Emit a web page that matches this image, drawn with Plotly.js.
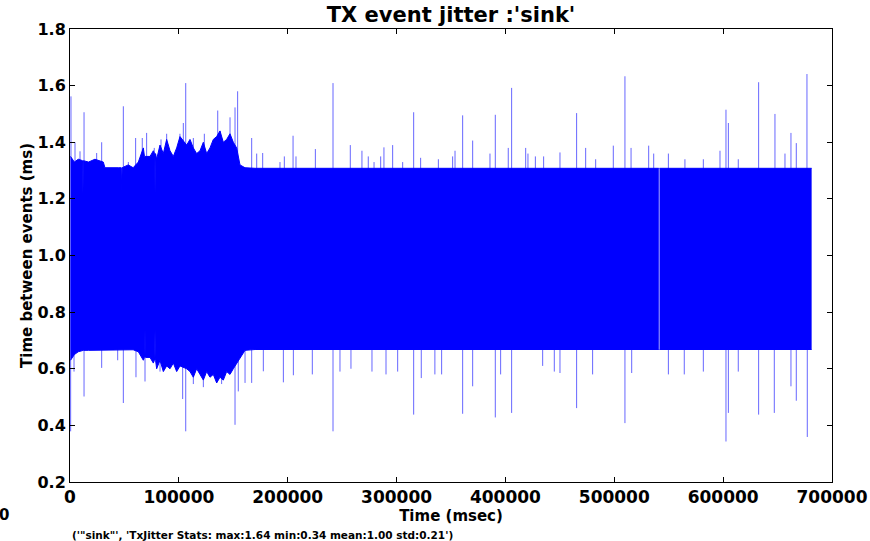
<!DOCTYPE html>
<html>
<head>
<meta charset="utf-8">
<script src="https://cdn.plot.ly/plotly-3.0.1.min.js"></script>
<style>html,body{margin:0;padding:0;background:#fff;}#chart{width:870px;height:541px;}</style>
</head>
<body>
<div id="chart"></div>
<script>
// ---- data ----
const xTicks = [0, 100000, 200000, 300000, 400000, 500000, 600000, 700000];
const xTickText = ["0", "100000", "200000", "300000", "400000", "500000", "600000", "700000"];
const yTicks = [0.2, 0.4, 0.6, 0.8, 1.0, 1.2, 1.4, 1.6, 1.8];
const yTickText = ["0.2", "0.4", "0.6", "0.8", "1.0", "1.2", "1.4", "1.6", "1.8"];

// dense band envelope (upper / lower edge of the oscillating trace)
const envX  = [500, 4000, 7600, 11500, 11900, 12300, 17000, 22900, 30600, 32100, 44300, 47100, 47500, 47900, 53500, 58000, 62770, 67360, 68400, 68900, 69400, 73490, 76550, 77600, 78100, 78600, 79610, 82670, 85740, 88800, 91860, 94920, 97980, 101040, 107170, 110230, 113290, 116350, 119420, 122480, 125540, 128600, 131660, 134720, 137790, 140850, 143910, 146970, 150030, 153100, 156160, 160750, 170000, 540900, 541500, 681300];
const envUp = [1.35, 1.33, 1.34, 1.335, 1.22, 1.335, 1.33, 1.34, 1.33, 1.31, 1.31, 1.31, 1.22, 1.31, 1.32, 1.31, 1.33, 1.38, 1.35, 1.35, 1.35, 1.35, 1.37, 1.36, 1.22, 1.36, 1.34, 1.39, 1.36, 1.41, 1.37, 1.35, 1.38, 1.42, 1.39, 1.41, 1.38, 1.36, 1.37, 1.40, 1.36, 1.38, 1.41, 1.42, 1.44, 1.40, 1.41, 1.43, 1.40, 1.38, 1.32, 1.31, 1.308, 1.308, 1.308, 1.308];
const envLo = [0.63, 0.65, 0.66, 0.665, 0.665, 0.665, 0.665, 0.665, 0.665, 0.667, 0.667, 0.667, 0.667, 0.667, 0.665, 0.667, 0.66, 0.63, 0.64, 0.74, 0.64, 0.64, 0.62, 0.63, 0.738, 0.63, 0.60, 0.63, 0.59, 0.61, 0.60, 0.62, 0.59, 0.61, 0.60, 0.59, 0.57, 0.60, 0.58, 0.56, 0.59, 0.57, 0.58, 0.55, 0.57, 0.56, 0.59, 0.58, 0.60, 0.62, 0.64, 0.665, 0.668, 0.668, 0.668, 0.668];
const gapX = [540900, 541500];

// isolated upward spikes
const upX = [900, 4600, 9200, 12900, 24500, 29100, 49000, 53600, 60300, 66400, 70400, 77400, 83600, 88800, 101000, 104100, 106300, 113300, 123400, 135700, 137800, 147000, 151600, 154000, 166900, 171500, 177000, 192900, 196900, 204900, 207600, 225400, 241600, 257500, 268200, 274000, 279300, 285400, 288400, 296400, 305600, 315700, 322100, 338400, 351500, 353700, 360700, 369900, 385800, 390700, 402600, 405700, 418600, 420700, 427500, 435100, 450100, 465400, 473700, 482900, 499100, 509800, 515400, 531600, 536200, 549700, 564900, 581800, 597100, 602600, 604800, 613900, 632600, 647600, 656800, 662300, 667200, 677000];
const upY = [1.562, 1.40, 1.368, 1.506, 1.362, 1.40, 1.527, 1.33, 1.415, 1.415, 1.433, 1.38, 1.41, 1.43, 1.43, 1.468, 1.609, 1.415, 1.43, 1.512, 1.44, 1.488, 1.523, 1.580, 1.415, 1.36, 1.362, 1.33, 1.35, 1.423, 1.35, 1.376, 1.609, 1.39, 1.37, 1.35, 1.33, 1.35, 1.382, 1.39, 1.33, 1.506, 1.345, 1.34, 1.35, 1.37, 1.495, 1.406, 1.36, 1.497, 1.38, 1.592, 1.38, 1.36, 1.35, 1.35, 1.364, 1.503, 1.38, 1.34, 1.388, 1.633, 1.38, 1.388, 1.36, 1.36, 1.34, 1.34, 1.37, 1.515, 1.468, 1.34, 1.612, 1.50, 1.36, 1.433, 1.397, 1.641];

// isolated downward spikes
const downX = [600, 3700, 12900, 29100, 43800, 49000, 60600, 68900, 82700, 103500, 106300, 113300, 122500, 134800, 139300, 151600, 154600, 160800, 166900, 177600, 196000, 205200, 222600, 241600, 248000, 258100, 277400, 290300, 301000, 315700, 322700, 335200, 341400, 360700, 369900, 390700, 395600, 405700, 434200, 444900, 450100, 465400, 480100, 509800, 516000, 549700, 564300, 581800, 602600, 604800, 613900, 632600, 647000, 662300, 667200, 677300];
const downY = [0.379, 0.59, 0.502, 0.603, 0.63, 0.479, 0.57, 0.555, 0.59, 0.493, 0.379, 0.546, 0.535, 0.55, 0.546, 0.402, 0.52, 0.55, 0.55, 0.591, 0.552, 0.577, 0.58, 0.379, 0.59, 0.60, 0.59, 0.58, 0.59, 0.438, 0.567, 0.58, 0.58, 0.441, 0.538, 0.428, 0.58, 0.444, 0.61, 0.59, 0.585, 0.461, 0.58, 0.408, 0.585, 0.58, 0.58, 0.59, 0.343, 0.444, 0.59, 0.438, 0.444, 0.538, 0.487, 0.359];

const titleText = "TX event jitter :'sink'";
const xTitle = "Time (msec)";
const yTitle = "Time between events (ms)";
const statsText = "('\"sink\"', 'TxJitter Stats: max:1.64 min:0.34 mean:1.00 std:0.21')";
const offsetText = "0";

// ---- build traces ----
const BLUE = '#0000ff';
const SPIKE = 'rgba(0,0,255,0.6)';
const MID = 1.0;

function segment(cond) {
  const x = [], up = [], lo = [];
  envX.forEach((v, i) => { if (cond(v)) { x.push(v); up.push(envUp[i]); lo.push(envLo[i]); } });
  return {x, up, lo};
}
const segs = [segment(v => v <= gapX[0]), segment(v => v >= gapX[1])];

const traces = [];
segs.forEach(s => {
  traces.push({x: s.x, y: s.lo, type: 'scatter', mode: 'lines', line: {color: BLUE, width: 1}, hoverinfo: 'skip'});
  traces.push({x: s.x, y: s.up, type: 'scatter', mode: 'lines', fill: 'tonexty', fillcolor: BLUE, line: {color: BLUE, width: 1}, hoverinfo: 'skip'});
});

function spikeTrace(xs, ys) {
  const x = [], y = [];
  xs.forEach((v, i) => { x.push(v, v, null); y.push(MID, ys[i], null); });
  return {x, y, type: 'scatter', mode: 'lines', line: {color: SPIKE, width: 1}, connectgaps: false, hoverinfo: 'skip'};
}
traces.push(spikeTrace(upX, upY));
traces.push(spikeTrace(downX, downY));

const FONT = 'DejaVu Sans, Liberation Sans, sans-serif';
const axisCommon = {
  showgrid: false, zeroline: false, showline: true, linecolor: 'black', linewidth: 1,
  mirror: 'ticks', ticks: 'inside', ticklen: 5, tickcolor: 'black', tickwidth: 1,
  tickmode: 'array', automargin: false
};

const layout = {
  width: 870, height: 541,
  margin: {l: 70, r: 38, t: 29, b: 59},
  paper_bgcolor: 'white', plot_bgcolor: 'white',
  showlegend: false,
  title: {text: titleText, font: {family: FONT, size: 21, color: 'black', weight: 'bold'},
          xref: 'paper', x: 0.5, xanchor: 'center', yref: 'container', y: 1 - 15 / 541, yanchor: 'middle'},
  xaxis: Object.assign({}, axisCommon, {
    range: [0, 700000], tickvals: xTicks, ticktext: xTickText,
    tickfont: {family: FONT, size: 17, color: 'black', weight: 'bold'},
    title: {text: xTitle, font: {family: FONT, size: 15, color: 'black', weight: 'bold'}, standoff: 3}
  }),
  yaxis: Object.assign({}, axisCommon, {
    range: [0.2, 1.8], tickvals: yTicks, ticktext: yTickText,
    tickfont: {family: FONT, size: 16, color: 'black', weight: 'bold'},
    title: {text: yTitle, font: {family: FONT, size: 15, color: 'black', weight: 'bold'}, standoff: 1}
  }),
  annotations: [
    {text: statsText, xref: 'paper', yref: 'paper', x: 0, y: (482.3 - 535) / 453, xanchor: 'left', yanchor: 'middle',
     showarrow: false, font: {family: FONT, size: 10.5, color: 'black', weight: 'bold'}},
    {text: offsetText, xref: 'paper', yref: 'paper', x: (3.5 - 70) / 762, y: (482.3 - 515.5) / 453, xanchor: 'center', yanchor: 'middle',
     showarrow: false, font: {family: FONT, size: 15, color: 'black', weight: 'bold'}}
  ]
};

Plotly.newPlot('chart', traces, layout, {staticPlot: true, displayModeBar: false});
</script>
</body>
</html>
